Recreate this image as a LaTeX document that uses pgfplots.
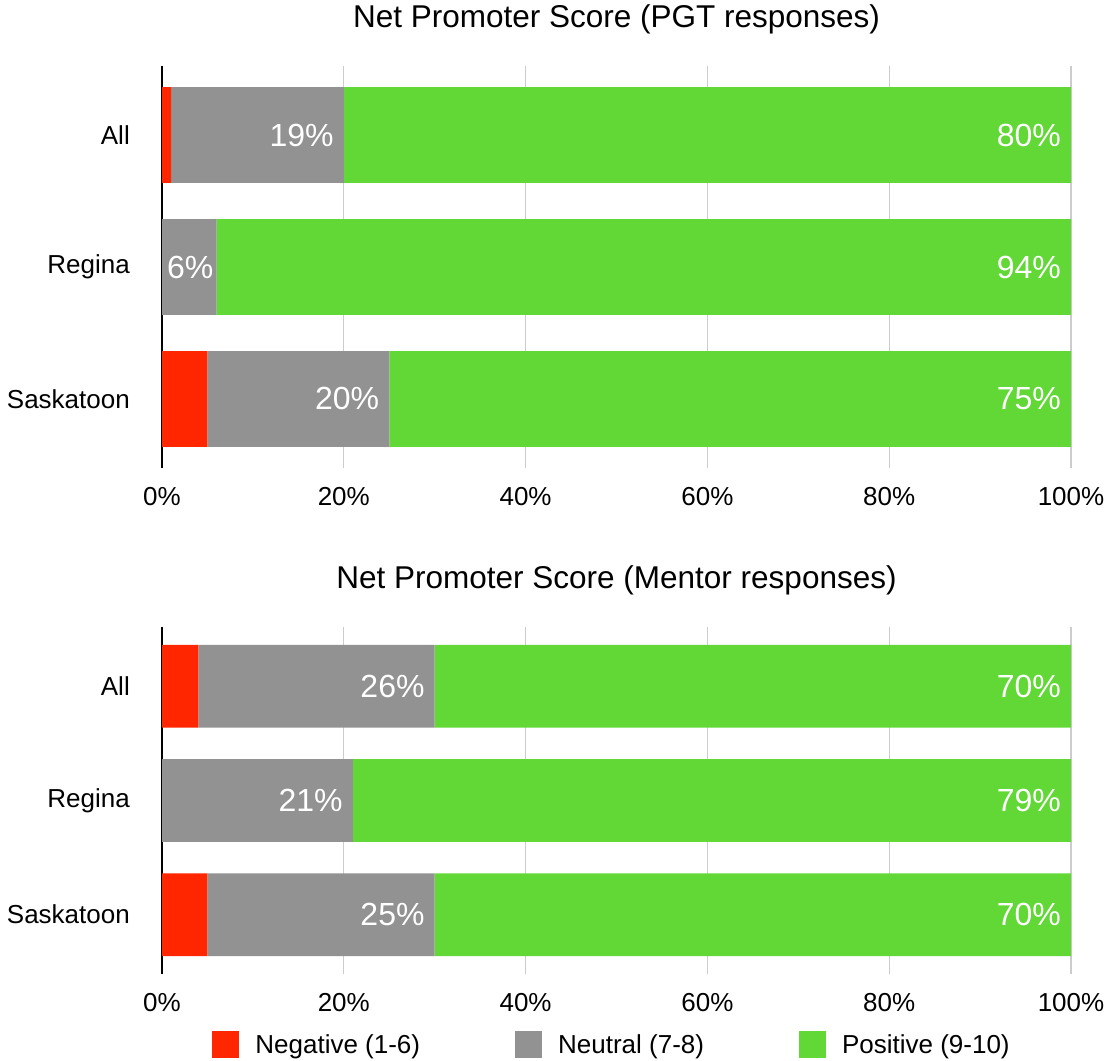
\documentclass[border=0pt]{standalone}
\usepackage{fontspec}
\setmainfont{Liberation Sans}
\usepackage{pgfplots}
\pgfplotsset{compat=1.18}
\usepackage{pgfplotstable}

\definecolor{negred}{HTML}{FF2600}
\definecolor{neugray}{HTML}{929292}
\definecolor{posgreen}{HTML}{61D836}
\definecolor{gridgray}{HTML}{CCCCCC}

% Net Promoter Score shares (percent); rows: 0 = Saskatoon, 1 = Regina, 2 = All
\pgfplotstableread{
idx neg neu pos
0   5   20  75
1   0   6   94
2   1   19  80
}\pgtdata

\pgfplotstableread{
idx neg neu pos
0   5   25  70
1   0   21  79
2   4   26  70
}\mentordata

\pgfplotsset{
  % shared geometry of both panels
  npsframe/.style={
    scale only axis,
    width=909bp,
    xmin=0, xmax=100,
    bar width=0.725,
  },
  npsaxis/.style={
    npsframe,
    xbar stacked,
    xtick={0,20,40,60,80,100},
    xticklabels={0\%,20\%,40\%,60\%,80\%,100\%},
    ytick={0,1,2},
    yticklabels={Saskatoon,Regina,All},
    xmajorgrids,
    grid style={gridgray, line width=1.2bp},
    major tick length=0pt,
    axis y line*=left,
    axis x line*=bottom,
    x axis line style={draw=none},
    y axis line style={black, line width=2.2bp},
    ticklabel style={font=\fontsize{26bp}{30bp}\selectfont},
    xticklabel style={inner sep=0pt, anchor=north, yshift=-19bp},
    yticklabel style={inner sep=0pt, anchor=east, xshift=-32bp},
    every axis plot/.append style={draw=none},
  },
  % transparent layer that writes each segment's share at its right end
  labellayer/.style={
    npsframe,
    xbar, bar shift=0pt,
    hide axis,
    point meta=explicit,
    nodes near coords={\pgfmathprintnumber{\pgfplotspointmeta}\%},
    nodes near coords style={anchor=east, inner sep=0pt, xshift=-10bp,
      white, font=\fontsize{32bp}{36bp}\selectfont,
      /pgf/number format/assume math mode=true},
    % narrow segments: keep the label clear of the axis line
    coordinate style/.condition={meta < 10}{xshift=7bp},
  },
}

\begin{document}
\begin{tikzpicture}
\useasboundingbox (0,0) rectangle (1107bp,1061bp);

% PGT responses
\begin{axis}[npsaxis,
  at={(162bp,593bp)}, anchor=south west,
  height=402bp,
  ymin=-0.523, ymax=2.523]
  \addplot[fill=negred] table[x=neg, y=idx] {\pgtdata};
  \addplot[fill=neugray] table[x=neu, y=idx] {\pgtdata};
  \addplot[fill=posgreen] table[x=pos, y=idx] {\pgtdata};
\end{axis}
\begin{axis}[labellayer,
  at={(162bp,593bp)}, anchor=south west,
  height=402bp,
  ymin=-0.523, ymax=2.523]
  \addplot[draw=none, fill=none]
    table[x expr=\thisrow{neg}+\thisrow{neu}, y=idx, meta=neu] {\pgtdata};
  \addplot[draw=none, fill=none]
    table[x expr=\thisrow{neg}+\thisrow{neu}+\thisrow{pos}, y=idx, meta=pos] {\pgtdata};
\end{axis}

% Mentor responses
\begin{axis}[npsaxis,
  at={(162bp,87bp)}, anchor=south west,
  height=347bp,
  ymin=-0.52, ymax=2.52,
  legend columns=3,
  legend image code/.code={\fill[#1] (0bp,-13.5bp) rectangle (27bp,13.5bp);},
  legend style={at={(0.494,-0.204)}, anchor=center, draw=none, fill=none,
    font=\fontsize{26bp}{30bp}\selectfont,
    nodes={inner ysep=0pt, inner xsep=0pt},
    /tikz/every odd column/.append style={column sep=16bp},
    /tikz/every even column/.append style={column sep=95bp}}]
  \addplot[fill=negred] table[x=neg, y=idx] {\mentordata};
  \addplot[fill=neugray] table[x=neu, y=idx] {\mentordata};
  \addplot[fill=posgreen] table[x=pos, y=idx] {\mentordata};
  \legend{Negative (1-6), Neutral (7-8), Positive (9-10)}
\end{axis}
\begin{axis}[labellayer,
  at={(162bp,87bp)}, anchor=south west,
  height=347bp,
  ymin=-0.52, ymax=2.52]
  \addplot[draw=none, fill=none]
    table[x expr=\thisrow{neg}+\thisrow{neu}, y=idx, meta=neu] {\mentordata};
  \addplot[draw=none, fill=none]
    table[x expr=\thisrow{neg}+\thisrow{neu}+\thisrow{pos}, y=idx, meta=pos] {\mentordata};
\end{axis}

\node[font=\fontsize{31.5bp}{36bp}\selectfont] at (616.5bp,1042bp) {Net Promoter Score (PGT responses)};
\node[font=\fontsize{31.5bp}{36bp}\selectfont] at (616.5bp,481bp) {Net Promoter Score (Mentor responses)};
\end{tikzpicture}
\end{document}
